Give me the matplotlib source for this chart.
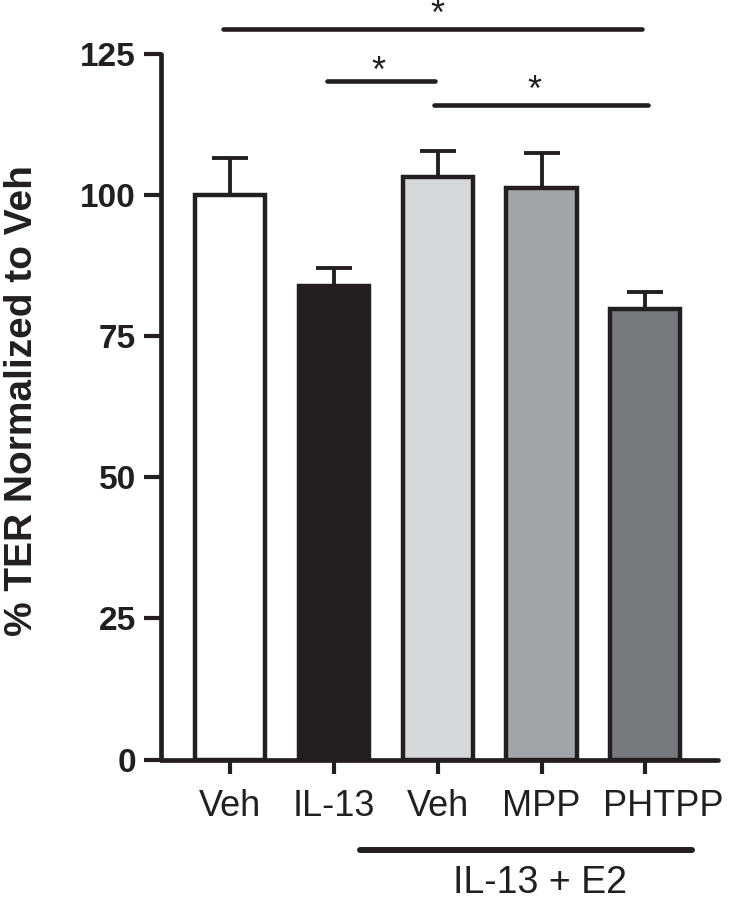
import matplotlib
matplotlib.use("Agg")
import matplotlib.pyplot as plt
from matplotlib.transforms import ScaledTranslation

categories = ["Veh", "IL-13", "Veh", "MPP", "PHTPP"]
values = [100.0, 83.9, 103.2, 101.2, 79.8]
errors = [6.5, 3.1, 4.6, 6.3, 3.0]
colors = ["#ffffff", "#231f20", "#d7d8da", "#a3a4a8", "#78797d"]
yticks = [0, 25, 50, 75, 100, 125]
ylabel = "% TER Normalized to Veh"
group_label = "IL-13 + E2"
# significance brackets: (x_start, x_end, y_line, star_x, star_baseline)
sig_lines = [(-0.07, 3.97, 129.5, 2.00, 130.1),
             (0.93, 1.97, 120.3, 1.43, 120.0),
             (1.96, 4.03, 115.9, 2.93, 116.6)]

plt.rcParams['font.family'] = ['Liberation Sans', 'DejaVu Sans']
ink = "#231f20"

fig = plt.figure(figsize=(7.31, 9.0), dpi=100)
ax = fig.add_axes([161/731, 1-759.5/900, (718-161)/731, (759.5-54)/900])

x = list(range(len(categories)))
ax.bar(x, values, width=0.675, color=colors, edgecolor=ink, linewidth=3.2, zorder=2)
ax.errorbar(x, values, yerr=[[0]*len(errors), errors], fmt='none', ecolor=ink,
            elinewidth=2.8, capsize=13, capthick=2.8, zorder=1)

ax.set_xlim(-0.665, 4.70)
ax.set_ylim(0, 125)
ax.set_yticks(yticks)
ax.set_yticklabels([str(t) for t in yticks], fontsize=24, fontweight='bold', color=ink)
ax.set_xticks(x)
ax.set_xticklabels(categories, fontsize=26, color=ink)
ax.tick_params(axis='y', length=12, width=3.0, color=ink, pad=6)
ax.tick_params(axis='x', length=10, width=3.0, color=ink, pad=11)
# last label sits slightly right of its tick in the reference
last = ax.get_xticklabels()[-1]
last.set_transform(last.get_transform() + ScaledTranslation(0.18, 0, fig.dpi_scale_trans))
for s in ['top', 'right']:
    ax.spines[s].set_visible(False)
for s in ['left', 'bottom']:
    ax.spines[s].set_linewidth(3.4)
    ax.spines[s].set_color(ink)
    ax.spines[s].set_capstyle('round')
ax.set_ylabel(ylabel, fontsize=28, fontweight='bold', color=ink)
ax.yaxis.set_label_coords((40-161)/557, (759.5-401)/705.5)

for x0, x1, yl, sx, sy in sig_lines:
    ax.plot([x0, x1], [yl, yl], color=ink, lw=3.3, solid_capstyle='round', clip_on=False)
    ax.text(sx, sy, "*", fontsize=26, ha='center', va='baseline', color=ink, clip_on=False)

# group bracket below the axis
trans = ax.get_xaxis_transform()
yb = (759.5-850)/705.5
ax.plot([1.25, 4.45], [yb, yb], color=ink, lw=4.3, solid_capstyle='round',
        transform=trans, clip_on=False)
ax.text(2.99, (759.5-893)/705.5, group_label, fontsize=27, ha='center', va='baseline',
        color=ink, transform=trans, clip_on=False)

fig.savefig("out.png", dpi=100)
